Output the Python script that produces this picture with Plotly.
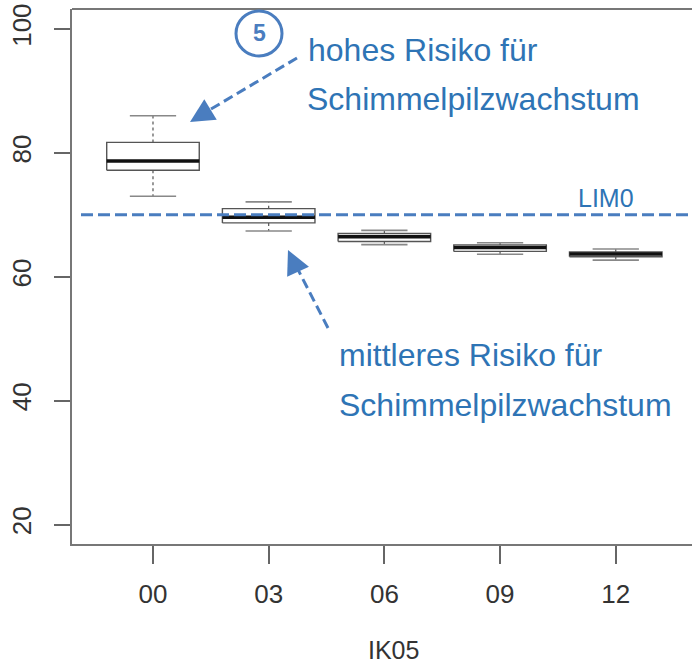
import plotly.graph_objects as go

# ---- data ----
categories = ["00", "03", "06", "09", "12"]
upper_whisker = [86.0, 72.1, 67.5, 65.5, 64.5]
q3_values     = [81.7, 71.0, 67.0, 65.15, 64.0]
medians       = [78.7, 69.6, 66.45, 64.75, 63.7]
q1_values     = [77.2, 68.7, 65.7, 64.1, 63.25]
lower_whisker = [73.0, 67.4, 65.2, 63.65, 62.7]
lim0_value = 70.0
y_ticks = [20, 40, 60, 80, 100]

# ---- geometry helpers (for annotation placement only) ----
W, H = 692, 667
L, R, T, B = 72, 0, 9, 123
X0, X1 = 0.3, 5.659
Y0, Y1 = 16.87, 103.23
pw, ph = W - L - R, H - T - B

def px2x(px):
    return X0 + (px - L) / pw * (X1 - X0)

def py2y(py):
    return Y1 - (py - T) / ph * (Y1 - Y0)

blue_line = "#4a7dbf"
blue_text = "#2e74b5"

pos = list(range(1, len(categories) + 1))
hw, cw = 0.4, 0.2

bx, by, mx, my, wx, wy, cx, cy = [], [], [], [], [], [], [], []
for p, lo, a, m, b, hi in zip(pos, lower_whisker, q1_values, medians, q3_values, upper_whisker):
    bx += [p - hw, p + hw, p + hw, p - hw, p - hw, None]
    by += [a, a, b, b, a, None]
    mx += [p - hw, p + hw, None]
    my += [m, m, None]
    wx += [p, p, None, p, p, None]
    wy += [b, hi, None, a, lo, None]
    cx += [p - cw, p + cw, None, p - cw, p + cw, None]
    cy += [hi, hi, None, lo, lo, None]

fig = go.Figure()
fig.add_trace(go.Scatter(x=wx, y=wy, mode="lines", line=dict(color="#555", width=1.2, dash="3px,3px"),
                         hoverinfo="skip", showlegend=False))
fig.add_trace(go.Scatter(x=cx, y=cy, mode="lines", line=dict(color="#888", width=1.6),
                         hoverinfo="skip", showlegend=False))
fig.add_trace(go.Scatter(x=bx, y=by, mode="lines", line=dict(color="#555", width=1.4),
                         fill=None, hoverinfo="skip", showlegend=False))
fig.add_trace(go.Scatter(x=mx, y=my, mode="lines", line=dict(color="#111", width=3.5),
                         hoverinfo="skip", showlegend=False))

# LIM0 dashed line
fig.add_trace(go.Scatter(x=[px2x(81), X1], y=[lim0_value, lim0_value], mode="lines",
                         line=dict(color=blue_line, width=3, dash="12px,5px"),
                         hoverinfo="skip", showlegend=False))

# dashed arrow shafts
arrows = [((297, 58), (196, 118)), ((328, 328), (291, 256))]
for (tx, ty), (hx, hy) in arrows:
    fig.add_trace(go.Scatter(x=[px2x(tx), px2x(hx)], y=[py2y(ty), py2y(hy)], mode="lines",
                             line=dict(color=blue_line, width=3, dash="10px,5px"),
                             hoverinfo="skip", showlegend=False))

annotations = []
# arrow heads
for (tip, vec) in [((190, 122), (14, -8.5)), ((288, 250), (6, 13))]:
    annotations.append(dict(x=px2x(tip[0]), y=py2y(tip[1]), xref="x", yref="y", text="",
                            showarrow=True, arrowhead=2, arrowsize=1.6, arrowwidth=3,
                            arrowcolor=blue_line, ax=vec[0], ay=vec[1]))

txtfont = dict(family="Liberation Sans, Arial, sans-serif", size=32, color=blue_text)
for txt, x, y in [("hohes Risiko für", 306, 50), ("Schimmelpilzwachstum", 305, 99),
                  ("mittleres Risiko für", 337, 355), ("Schimmelpilzwachstum", 337, 405)]:
    annotations.append(dict(x=px2x(x), y=py2y(y), xref="x", yref="y", text=txt, showarrow=False,
                            xanchor="left", yanchor="middle", font=txtfont))
annotations.append(dict(x=px2x(576), y=py2y(198), xref="x", yref="y", text="LIM0", showarrow=False,
                        xanchor="left", yanchor="middle",
                        font=dict(family="Liberation Sans, Arial, sans-serif", size=25, color=blue_text)))
annotations.append(dict(x=px2x(259), y=py2y(33), xref="x", yref="y", text="<b>5</b>", showarrow=False,
                        xanchor="center", yanchor="middle",
                        font=dict(family="Liberation Sans, Arial, sans-serif", size=23, color=blue_line)))
annotations.append(dict(x=0.5 + (393 - 72 - pw / 2) / pw, y=-(650 - (T + ph)) / ph, xref="paper", yref="paper",
                        text="IK05", showarrow=False, xanchor="center", yanchor="middle",
                        font=dict(family="Liberation Sans, Arial, sans-serif", size=25, color="#333")))

shapes = [
    dict(type="line", xref="paper", yref="paper", x0=0, x1=1, y0=1, y1=1,
         line=dict(color="#777", width=2)),
    dict(type="circle", xref="x", yref="y", x0=px2x(236), x1=px2x(282), y0=py2y(56), y1=py2y(11),
         line=dict(color=blue_line, width=3)),
]

fig.update_layout(
    width=W, height=H,
    margin=dict(l=L, r=R, t=T, b=B, pad=0),
    paper_bgcolor="white", plot_bgcolor="white",
    font=dict(family="Liberation Sans, Arial, sans-serif", size=26, color="#333"),
    annotations=annotations, shapes=shapes,
    xaxis=dict(range=[X0, X1], tickvals=pos, ticktext=categories, showgrid=False, zeroline=False,
               showline=True, linecolor="#777", linewidth=2, ticks="outside", ticklen=18,
               tickcolor="#666", tickwidth=1.5, ticklabelstandoff=8),
    yaxis=dict(range=[Y0, Y1], tickvals=y_ticks, showgrid=False, zeroline=False,
               showline=True, linecolor="#777", linewidth=2, ticks="outside", ticklen=16,
               tickcolor="#666", tickwidth=1.5, tickangle=-90, ticklabelstandoff=13),
)

fig.write_html("out.html")
